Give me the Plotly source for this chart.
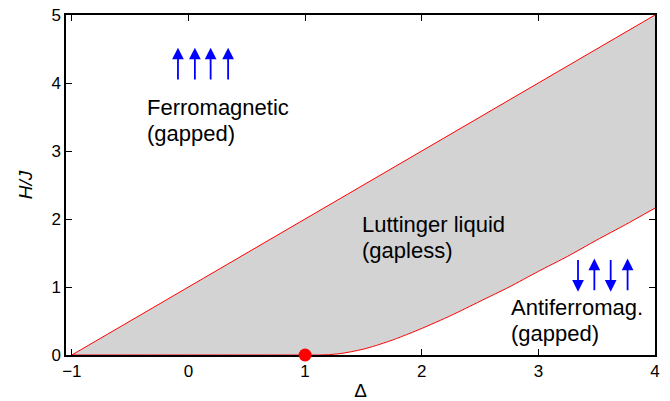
import plotly.graph_objs as go

# phase boundaries of the XXZ chain
delta_upper = [-1.0, 4.0]
h_upper = [0.0, 5.0]

delta_lower = [-1.0, 1.0, 1.1, 1.2, 1.3, 1.4, 1.5, 1.6, 1.75, 1.9, 2.0,
               2.25, 2.5, 2.75, 3.0, 3.25, 3.5, 3.75, 4.0]
h_lower = [0.0, 0.0, 0.0, 0.005, 0.02, 0.05, 0.086, 0.135, 0.22, 0.32, 0.39,
           0.58, 0.79, 1.0, 1.23, 1.45, 1.69, 1.92, 2.16]

critical_delta = [1.0]
critical_h = [0.0]

# spin arrows (x position, direction)
ferro_x = [-0.09, 0.055, 0.19, 0.34]
ferro_dir = ["up", "up", "up", "up"]
afm_x = [3.34, 3.48, 3.62, 3.765]
afm_dir = ["down", "up", "down", "up"]

# phase labels, one entry per text line
label_lines = ["Ferromagnetic", "(gapped)", "Luttinger liquid", "(gapless)",
               "Antiferromag.", "(gapped)"]
label_x = [-0.375, -0.375, 1.47, 1.47, 2.75, 2.75]
label_y = [3.64, 3.26, 1.92, 1.54, 0.70, 0.32]

font = "Liberation Sans, Arial, sans-serif"

# shaded Luttinger liquid region between the two boundaries
region = go.Scatter(
    x=delta_upper + delta_lower[::-1],
    y=h_upper + h_lower[::-1],
    fill="toself",
    fillcolor="#d3d3d3",
    line=dict(width=0),
    mode="lines",
    hoverinfo="skip",
)

upper = go.Scatter(x=delta_upper, y=h_upper, mode="lines",
                   line=dict(color="red", width=1))
lower = go.Scatter(x=delta_lower, y=h_lower, mode="lines",
                   line=dict(color="red", width=1, shape="spline", smoothing=0.6))
dot = go.Scatter(x=critical_delta, y=critical_h, mode="markers",
                 marker=dict(color="red", size=13), cliponaxis=False)

annotations = []
for txt, lx, ly in zip(label_lines, label_x, label_y):
    annotations.append(dict(x=lx, y=ly, text=txt, xanchor="left", yanchor="middle",
                            showarrow=False, font=dict(size=22, family=font, color="black")))

def spin(xpos, direction, lo, hi):
    if direction == "up":
        tip, tail = hi, lo
    else:
        tip, tail = lo, hi
    return dict(x=xpos, y=tip, ax=xpos, ay=tail, xref="x", yref="y", axref="x", ayref="y",
                text="", showarrow=True, arrowhead=2, arrowsize=1.3, arrowwidth=1.8,
                arrowcolor="blue")

for xp, d in zip(ferro_x, ferro_dir):
    annotations.append(spin(xp, d, 4.03, 4.52))
for xp, d in zip(afm_x, afm_dir):
    annotations.append(spin(xp, d, 0.93, 1.42))

axis_style = dict(
    showline=True, linecolor="black", linewidth=1.5, mirror="ticks",
    ticks="inside", ticklen=6, tickwidth=1, tickcolor="black",
    showgrid=False, zeroline=False, automargin=False, layer="below traces",
    ticklabeloverflow="allow",
    tickfont=dict(size=17, family=font, color="black"),
)

# the page adds an 8px body margin, so the plot area is shifted up/left to match
layout = go.Layout(
    width=670, height=401,
    margin=dict(l=58, r=23, t=7, b=54),
    plot_bgcolor="white", paper_bgcolor="white",
    showlegend=False,
    xaxis=dict(range=[-1.05, 4.0], tickvals=[-1, 0, 1, 2, 3, 4],
               title=dict(text="Δ", font=dict(size=19, family=font, color="black"), standoff=4),
               **axis_style),
    yaxis=dict(range=[0, 5], tickvals=[0, 1, 2, 3, 4, 5],
               title=dict(text="<i>H/J</i>", font=dict(size=19, family=font, color="black"), standoff=14),
               **axis_style),
    annotations=annotations,
)

fig = go.Figure(data=[region, upper, lower, dot], layout=layout)
fig.write_html("out.html")
